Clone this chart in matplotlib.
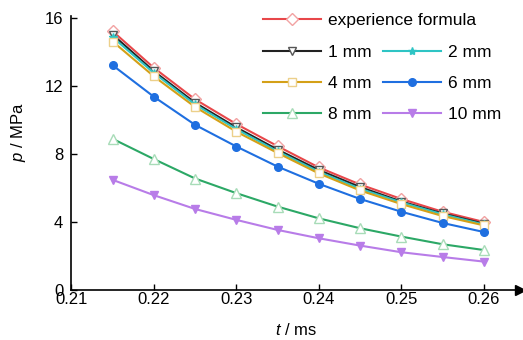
import matplotlib
matplotlib.use("Agg")
import matplotlib.pyplot as plt

base = 'Liberation Sans'
plt.rcParams['font.family'] = [base, 'DejaVu Sans']
plt.rcParams['mathtext.fontset'] = 'custom'
plt.rcParams['mathtext.it'] = base + ':italic'
plt.rcParams['mathtext.rm'] = base

t = [0.215, 0.22, 0.225, 0.23, 0.235, 0.24, 0.245, 0.25, 0.255, 0.26]
p_formula = [15.2, 13.05, 11.2, 9.75, 8.45, 7.2, 6.2, 5.35, 4.6, 4.0]
p_1mm = [15.0, 12.85, 11.0, 9.55, 8.25, 7.05, 6.05, 5.2, 4.5, 3.9]
p_2mm = [14.85, 12.75, 10.9, 9.45, 8.15, 6.95, 5.95, 5.15, 4.45, 3.85]
p_4mm = [14.6, 12.55, 10.75, 9.3, 8.05, 6.85, 5.85, 5.05, 4.35, 3.8]
p_6mm = [13.2, 11.35, 9.7, 8.43, 7.25, 6.24, 5.35, 4.6, 3.94, 3.41]
p_8mm = [8.88, 7.69, 6.55, 5.69, 4.9, 4.21, 3.63, 3.14, 2.69, 2.35]
p_10mm = [6.47, 5.57, 4.76, 4.12, 3.53, 3.04, 2.61, 2.22, 1.94, 1.67]

xticks = [0.21, 0.22, 0.23, 0.24, 0.25, 0.26]
xticklabels = ['0.21', '0.22', '0.23', '0.24', '0.25', '0.26']
yticks = [0, 4, 8, 12, 16]
yticklabels = ['0', '4', '8', '12', '16']

fig = plt.figure(figsize=(5.23, 3.40), dpi=100)
ax = fig.add_axes([0.1367, 0.147, 0.8576, 0.806])

lw = 1.5
series = [
    ('experience formula', p_formula, dict(color='#e8474a', marker='D', ms=6, mfc='white', mec='#f2a2a2')),
    ('1 mm', p_1mm, dict(color='#222222', marker='v', ms=6, mfc='white', mec='#555555')),
    ('2 mm', p_2mm, dict(color='#2ec4c4', marker='*', ms=6, mfc='#2ec4c4', mec='#2ec4c4')),
    ('4 mm', p_4mm, dict(color='#d4a017', marker='s', ms=6, mfc='white', mec='#ecd08a')),
    ('6 mm', p_6mm, dict(color='#1f6fe0', marker='o', ms=5.5, mfc='#1f6fe0', mec='#1f6fe0')),
    ('8 mm', p_8mm, dict(color='#2ca866', marker='^', ms=7, mfc='white', mec='#a8dcb8')),
    ('10 mm', p_10mm, dict(color='#b87ce8', marker='v', ms=6, mfc='#b87ce8', mec='#b87ce8')),
]
handles = {}
for name, vals, st in series:
    h, = ax.plot(t, vals, lw=lw, label=name, **st)
    handles[name] = h

ax.set_xlim(0.21, 0.2644)
ax.set_ylim(0, 16.1)
ax.set_xticks(xticks)
ax.set_xticklabels(xticklabels)
ax.set_yticks(yticks)
ax.set_yticklabels(yticklabels)
ax.tick_params(axis='both', direction='in', length=4, width=1, labelsize=12)
ax.tick_params(axis='x', pad=1.5)
ax.tick_params(axis='y', pad=6)
for s in ['top', 'right']:
    ax.spines[s].set_visible(False)
for s in ['left', 'bottom']:
    ax.spines[s].set_linewidth(1.2)
ax.plot(1, 0, '>k', ms=7, transform=ax.get_yaxis_transform(), clip_on=False)
ax.plot(0, 1, '^k', ms=7, transform=ax.get_xaxis_transform(), clip_on=False)

ax.set_xlabel(r'$t$ / ms', fontsize=12)
ax.set_ylabel(r'$p$ / MPa', fontsize=12)
ax.xaxis.set_label_coords(0.5, -0.115)
ax.yaxis.set_label_coords(-0.097, 0.577)

fs = 12.5
leg1 = ax.legend([handles['experience formula']], ['experience formula'],
                 loc='upper left', bbox_to_anchor=(260/523, 1 - 9/340),
                 bbox_transform=fig.transFigure, frameon=False, fontsize=fs,
                 handlelength=3.3, handletextpad=0.4, borderaxespad=0, borderpad=0.2)
ax.add_artist(leg1)
order = ['1 mm', '4 mm', '8 mm', '2 mm', '6 mm', '10 mm']
ax.legend([handles[n] for n in order], order, ncol=2,
          loc='upper left', bbox_to_anchor=(260/523, 1 - 41/340),
          bbox_transform=fig.transFigure, frameon=False, fontsize=fs,
          handlelength=3.3, handletextpad=0.4, columnspacing=0.7,
          labelspacing=0.92, borderaxespad=0, borderpad=0.2)

fig.savefig('out.png', dpi=100)
